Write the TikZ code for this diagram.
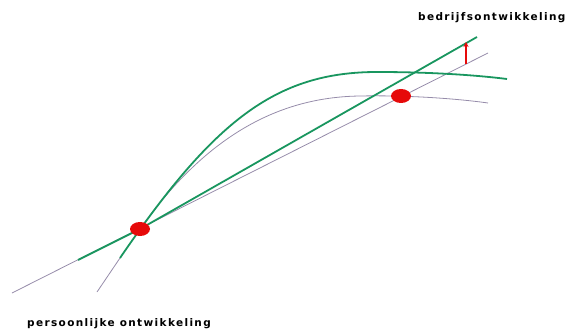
\documentclass[tikz,border=0pt]{standalone}
\usepackage{fontspec}
\setmainfont{DejaVu Sans}[LetterSpace=13]
\usetikzlibrary{arrows.meta, shapes.geometric}
\definecolor{curvegreen}{RGB}{25, 150, 95}
\definecolor{lightline}{RGB}{150, 140, 170}
\definecolor{dotred}{RGB}{230, 10, 10}

\begin{document}
\begin{tikzpicture}[x=1pt, y=-1pt,
        greenline/.style={curvegreen, line width=1.8pt},
        greyline/.style={lightline, line width=0.8pt},
        dot/.style={ellipse, fill=dotred, draw=none, minimum width=20pt, minimum height=14pt, inner sep=0pt},
        lbl/.style={font=\bfseries\fontsize{10.5}{12}\selectfont, inner sep=0pt, anchor=west},
        arr/.style={-{Stealth[length=5pt, width=5pt]}, dotred, line width=1.2pt}
      ]
        \useasboundingbox (0,0) rectangle (575,331);

        % straight lines
        \coordinate (g0) at (12,293);
        \coordinate (g1) at (488,53);
        \coordinate (s0) at (78,260);
        \coordinate (s1) at (477,37);
        \draw[greyline] (g0) -- (g1);

        % curves
        \coordinate (c0) at (97,292);
        \coordinate (c1) at (120,258);
        \coordinate (m) at (140,229);
        \draw[greyline] (c0) -- (c1);
        \draw[greyline] (m) .. controls (210,130) and (285,97) .. (360,96)
            .. controls (410,95) and (460,99) .. (488,103);
        \draw[greenline] (c1) .. controls (213,122) and (275,72) .. (377,72)
            .. controls (430,72) and (475,75) .. (507,79);

        \draw[greenline] (s0) -- (m) -- (s1);

        % dots
        \node[dot] (p1) at (m) {};
        \node[dot] (p2) at (401,96) {};

        % shift
        \coordinate (a0) at (466,64);
        \coordinate (a1) at (466,42);
        \draw[arr] (a0) -- (a1);

        \node[lbl] (top) at (418,18) {bedrijfsontwikkeling};
        \node[lbl] (bottom) at (27,324) {persoonlijke ontwikkeling};
      \end{tikzpicture}
\end{document}
